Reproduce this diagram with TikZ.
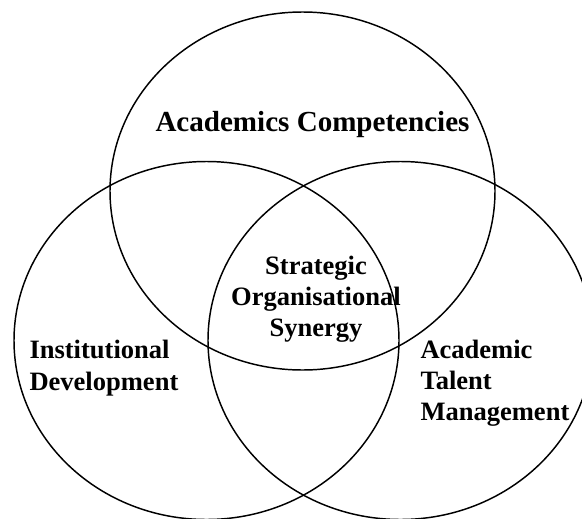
\documentclass[tikz,border=0pt]{standalone}
\usepackage{fontspec}
\setmainfont{Liberation Serif}

\tikzset{every picture/.style={line width=0.75pt}}

\begin{document}
\begin{tikzpicture}[x=0.75pt,y=0.75pt,yscale=-1,xscale=1,
  ring/.style={line width=1.1pt},
  lbl/.style={inner sep=0pt,font=\fontsize{19.9}{23.3}\selectfont\bfseries},
  biglbl/.style={inner sep=0pt,font=\fontsize{21.8}{25}\selectfont\bfseries}]
%uncomment if require: \path (0,518); %set diagram left start at 0, and has height of 518
\useasboundingbox (0,0) rectangle (582,518);
%Shape: Ellipse [id:dp1] 
\draw [ring] (302.5,191) ellipse [x radius=192.5, y radius=179];
%Shape: Ellipse [id:dp2] 
\draw [ring] (206.5,340.5) ellipse [x radius=192.5, y radius=179];
%Shape: Ellipse [id:dp3] 
\draw [ring] (400.5,340.5) ellipse [x radius=192.5, y radius=179];
% Text Node
\draw (312.5,131.5) node (acad) [anchor=base] [biglbl] [align=center] {Academics Competencies};
% Text Node
\draw (316,336.3) node (syn) [anchor=base] [lbl] [align=center] {Strategic\\Organisational\\Synergy};
% Text Node
\draw (29,390) node (inst) [anchor=base west] [lbl] [align=left] {Institutional\\Development};
% Text Node
\draw (420,420.3) node (tal) [anchor=base west] [lbl] [align=left] {Academic\\Talent\\Management};
\end{tikzpicture}
\end{document}
